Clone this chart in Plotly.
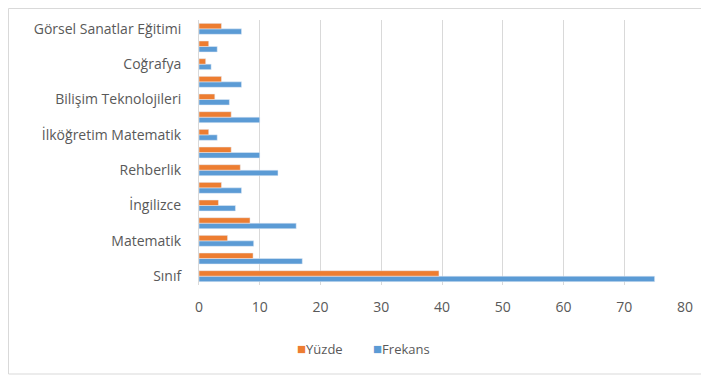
import plotly.graph_objects as go

categories = ["Sınıf", "Okul Öncesi", "Matematik", "Türkçe", "İngilizce", "Fen Bilgisi",
              "Rehberlik", "Sosyal Bilgiler", "İlköğretim Matematik", "Din Kültürü",
              "Bilişim Teknolojileri", "Tarih", "Coğrafya", "Müzik", "Görsel Sanatlar Eğitimi"]
frekans = [75, 17, 9, 16, 6, 7, 13, 10, 3, 10, 5, 7, 2, 3, 7]
yuzde = [39.5, 8.9, 4.7, 8.4, 3.2, 3.7, 6.8, 5.3, 1.6, 5.3, 2.6, 3.7, 1.1, 1.6, 3.7]
shown_labels = categories[::2]
x_ticks = [0, 10, 20, 30, 40, 50, 60, 70, 80]
series_names = ["Yüzde", "Frekans"]
series_colors = ["#ED7D31", "#5B9BD5"]

fig = go.Figure()
fig.add_trace(go.Bar(y=categories, x=frekans, orientation="h", name=series_names[1],
                     marker_color=series_colors[1]))
fig.add_trace(go.Bar(y=categories, x=yuzde, orientation="h", name=series_names[0],
                     marker_color=series_colors[0]))

font = "Open Sans, sans-serif"
legend_text = ("&nbsp;" * 9).join(
    f"<span style='color:{c};font-size:15px'>■</span>{n}"
    for n, c in zip(series_names, series_colors))

# page has an 8px body margin; figure is sized so the plot lands where the reference has it
W, H = 701, 372
L, R, T, B = 191, 24, 12, 95
pw, ph = W - L - R, H - T - B


def px(x):
    return (x - L) / pw


def py(y):
    return (H - B - y) / ph


fig.update_layout(
    width=W, height=H,
    margin=dict(l=L, r=R, t=T, b=B, autoexpand=False),
    paper_bgcolor="white", plot_bgcolor="white",
    barmode="group", bargap=0.38, bargroupgap=0,
    font=dict(family=font, size=14, color="#595959"),
    showlegend=False,
    xaxis=dict(range=[0, 80], tickvals=x_ticks, showgrid=True, gridcolor="#d9d9d9",
               gridwidth=1, zeroline=False, showline=False, ticks="", automargin=False,
               ticklabelstandoff=12, tickfont=dict(size=14, color="#595959")),
    yaxis=dict(type="category", categoryorder="array", categoryarray=categories,
               tickvals=shown_labels, ticktext=shown_labels, showgrid=False,
               zeroline=False, showline=True, linecolor="#d9d9d9", linewidth=1,
               ticks="", ticklabelstandoff=14, range=[-0.5, len(categories) - 0.5],
               automargin=False, tickfont=dict(size=14, color="#595959")),
    annotations=[dict(text=legend_text, xref="paper", yref="paper",
                      x=px(355), y=py(340), xanchor="center",
                      yanchor="middle", showarrow=False,
                      font=dict(size=13, color="#595959", family=font))],
    shapes=[dict(type="rect", xref="paper", yref="paper",
                 x0=px(0.5), x1=px(696), y0=py(366), y1=py(0.5),
                 line=dict(color="#d9d9d9", width=1), fillcolor="rgba(0,0,0,0)",
                 layer="below")],
)

fig.write_html("out.html")
